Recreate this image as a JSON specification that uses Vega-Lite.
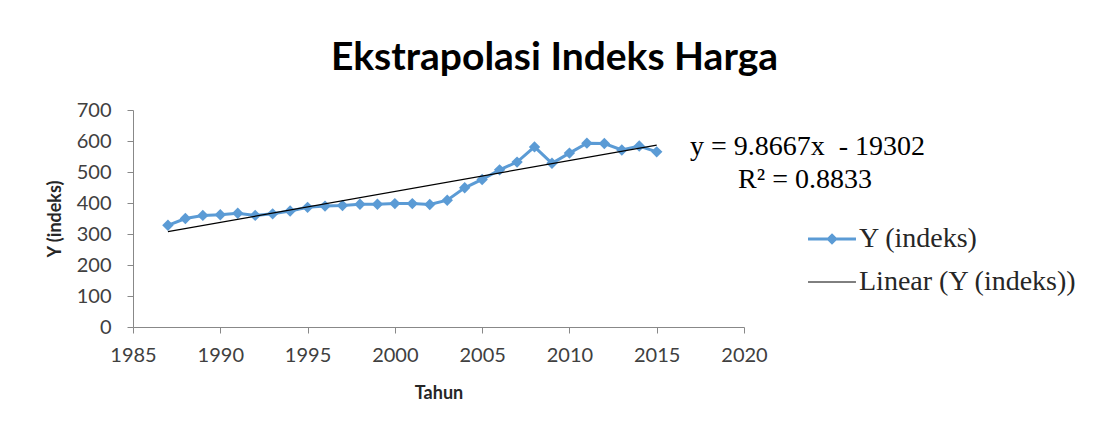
{
  "$schema": "https://vega.github.io/schema/vega-lite/v6.json",
  "width": 611,
  "height": 217,
  "autosize": {"type": "none"},
  "padding": {"left": 133, "top": 110, "right": 353, "bottom": 103},
  "background": "white",
  "title": {
    "text": "Ekstrapolasi Indeks Harga",
    "font": "Lato",
    "fontSize": 39,
    "fontWeight": "bold",
    "color": "#000000",
    "anchor": "middle",
    "dx": 116,
    "offset": 22
  },
  "data": {
    "values": [
      {"tahun": 1987, "y": 328},
      {"tahun": 1988, "y": 350},
      {"tahun": 1989, "y": 360},
      {"tahun": 1990, "y": 362},
      {"tahun": 1991, "y": 367},
      {"tahun": 1992, "y": 360},
      {"tahun": 1993, "y": 365},
      {"tahun": 1994, "y": 374},
      {"tahun": 1995, "y": 386},
      {"tahun": 1996, "y": 390},
      {"tahun": 1997, "y": 392},
      {"tahun": 1998, "y": 396},
      {"tahun": 1999, "y": 396},
      {"tahun": 2000, "y": 398},
      {"tahun": 2001, "y": 398},
      {"tahun": 2002, "y": 395},
      {"tahun": 2003, "y": 409},
      {"tahun": 2004, "y": 449},
      {"tahun": 2005, "y": 476},
      {"tahun": 2006, "y": 507},
      {"tahun": 2007, "y": 532},
      {"tahun": 2008, "y": 581},
      {"tahun": 2009, "y": 528},
      {"tahun": 2010, "y": 561},
      {"tahun": 2011, "y": 593},
      {"tahun": 2012, "y": 592},
      {"tahun": 2013, "y": 571},
      {"tahun": 2014, "y": 584},
      {"tahun": 2015, "y": 565}
    ]
  },
  "encoding": {
    "x": {
      "field": "tahun",
      "type": "quantitative",
      "scale": {"domain": [1985, 2020], "nice": false, "zero": false},
      "axis": {
        "values": [1985, 1990, 1995, 2000, 2005, 2010, 2015, 2020],
        "format": "d",
        "title": "Tahun",
        "grid": false,
        "labelFont": "Lato",
        "labelFontSize": 20,
        "labelColor": "#404040",
        "labelPadding": 12,
        "labelFlush": false,
        "domainColor": "#888888",
        "tickColor": "#888888",
        "tickSize": 6,
        "titleFont": "Lato",
        "titleFontSize": 18,
        "titleFontWeight": "bold",
        "titleColor": "#262626",
        "titlePadding": 19
      }
    },
    "y": {
      "field": "y",
      "type": "quantitative",
      "scale": {"domain": [0, 700], "nice": false},
      "axis": {
        "values": [0, 100, 200, 300, 400, 500, 600, 700],
        "title": "Y (indeks)",
        "grid": false,
        "labelFont": "Lato",
        "labelFontSize": 20,
        "labelColor": "#404040",
        "labelPadding": 16,
        "labelFlush": false,
        "domainColor": "#888888",
        "tickColor": "#888888",
        "tickSize": 6,
        "titleFont": "Lato",
        "titleFontSize": 18,
        "titleFontWeight": "bold",
        "titleColor": "#262626",
        "titlePadding": 12
      }
    }
  },
  "layer": [
    {
      "mark": {"type": "line", "strokeWidth": 3},
      "encoding": {
        "color": {
          "datum": "Y (indeks)",
          "scale": {"domain": ["Y (indeks)", "Linear (Y (indeks))"], "range": ["#5B9BD5", "#000000"]},
          "legend": {
            "orient": "none",
            "legendX": 685,
            "legendY": 115,
            "title": null,
            "padding": 0,
            "labelFont": "Liberation Serif",
            "labelFontSize": 28,
            "labelColor": "#262626",
            "labelOffset": 13,
            "labelLimit": 400,
            "symbolSize": 2300,
            "rowPadding": 15,
            "encode": {
              "symbols": {
                "update": {
                  "shape": {"signal": "datum.value === 'Y (indeks)' ? 'M-1,0L1,0M0,-0.15L0.15,0L0,0.15L-0.15,0Z' : 'M-1,0L1,0'"},
                  "stroke": {"signal": "datum.value === 'Y (indeks)' ? '#5B9BD5' : '#000000'"},
                  "fill": {"signal": "datum.value === 'Y (indeks)' ? '#5B9BD5' : 'transparent'"},
                  "strokeWidth": {"signal": "datum.value === 'Y (indeks)' ? 3 : 1"},
                  "opacity": {"value": 1}
                }
              }
            }
          }
        }
      }
    },
    {
      "mark": {"type": "point", "shape": "diamond", "filled": true, "size": 130, "opacity": 1, "color": "#5B9BD5"},
      "encoding": {}
    },
    {
      "transform": [{"regression": "y", "on": "tahun"}],
      "mark": {"type": "line", "strokeWidth": 1.2},
      "encoding": {
        "color": {"datum": "Linear (Y (indeks))"}
      }
    },
    {
      "transform": [{"filter": "datum.tahun === 2015"}],
      "mark": {"type": "text", "font": "Liberation Serif", "fontSize": 28, "align": "left", "baseline": "middle", "color": "#000000"},
      "encoding": {
        "x": {"datum": 2016.9},
        "y": {"datum": 581},
        "text": {"value": "y = 9.8667x\u00a0 - 19302"}
      }
    },
    {
      "transform": [{"filter": "datum.tahun === 2015"}],
      "mark": {"type": "text", "font": "Liberation Serif", "fontSize": 28, "align": "left", "baseline": "middle", "color": "#000000"},
      "encoding": {
        "x": {"datum": 2019.66},
        "y": {"datum": 474},
        "text": {"value": "R² = 0.8833"}
      }
    }
  ],
  "config": {
    "view": {"stroke": null}
  }
}
